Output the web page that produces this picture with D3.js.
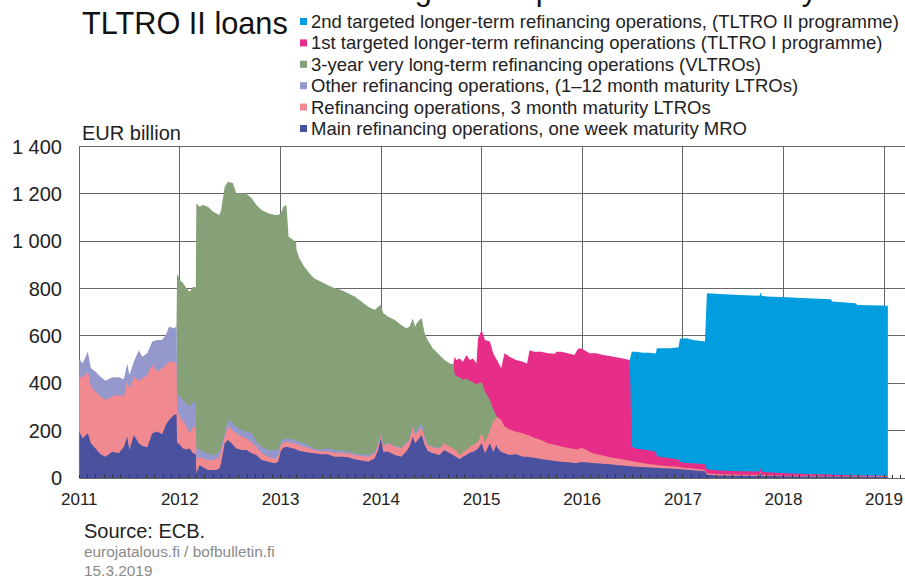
<!DOCTYPE html>
<html><head><meta charset="utf-8">
<script src="https://cdn.jsdelivr.net/npm/d3@7"></script>
<style>
body{margin:0;background:#fff;}
svg{display:block;font-family:"Liberation Sans",Arial,Helvetica,sans-serif;}
</style>
</head><body>
<svg id="chart" width="905" height="578"></svg>
<script>
// ---------------- DATA (EUR billion) ----------------
const dates = [
 "2011-01-01","2011-01-13","2011-02-01","2011-02-12","2011-03-01","2011-03-19","2011-04-06","2011-05-01","2011-05-24","2011-06-12","2011-06-24","2011-07-02","2011-07-18","2011-08-05","2011-08-18","2011-09-05","2011-09-23","2011-10-11","2011-10-29","2011-11-11","2011-11-23","2011-12-11","2011-12-20","2011-12-22",
 "2012-01-01","2012-01-13","2012-01-25","2012-02-06","2012-02-18","2012-02-28","2012-03-01","2012-03-13","2012-03-25","2012-04-12","2012-04-30","2012-05-12","2012-05-24","2012-05-30","2012-06-12","2012-06-24","2012-07-12","2012-07-24","2012-08-12","2012-08-30","2012-09-18","2012-10-05","2012-10-24","2012-11-17","2012-12-11","2012-12-23",
 "2013-01-02","2013-01-11","2013-01-22","2013-01-30","2013-02-16","2013-02-26","2013-02-28","2013-03-10","2013-03-28","2013-04-16","2013-05-04","2013-05-28","2013-06-21","2013-07-16","2013-08-09","2013-09-03","2013-09-27","2013-10-21","2013-11-15","2013-12-09","2013-12-21","2013-12-31",
 "2014-01-09","2014-01-27","2014-02-20","2014-03-15","2014-04-02","2014-04-14","2014-04-26","2014-05-04","2014-05-14","2014-05-28","2014-06-08","2014-06-19","2014-07-07","2014-08-01","2014-08-19","2014-09-07","2014-09-20","2014-09-25","2014-10-01","2014-10-13","2014-10-25","2014-11-07","2014-11-19","2014-12-01","2014-12-13","2014-12-19",
 "2015-01-01","2015-01-13","2015-01-31","2015-02-12","2015-02-24","2015-02-26","2015-03-13","2015-03-25","2015-04-12","2015-05-06","2015-05-30","2015-06-15","2015-06-24","2015-07-11","2015-08-05","2015-08-29","2015-09-23","2015-09-30","2015-10-17","2015-11-10","2015-12-04","2015-12-16","2015-12-26",
 "2016-01-10","2016-01-28","2016-02-22","2016-03-16","2016-04-10","2016-05-04","2016-05-28","2016-06-22","2016-06-29","2016-07-15","2016-08-09","2016-09-02","2016-09-25","2016-09-28","2016-10-21","2016-11-15","2016-12-16","2016-12-21",
 "2017-01-14","2017-02-07","2017-03-22","2017-03-29","2017-05-14","2017-07-25","2017-10-06","2017-10-10","2017-10-14","2017-11-01","2018-01-12","2018-03-24","2018-06-22","2018-06-27","2018-09-20","2018-09-26","2018-12-16","2019-01-15"
];
// Main refinancing operations (MRO)
const mro = [
 196,168,189,147,125,100,90,111,104,132,174,118,182,147,135,130,189,196,185,224,245,266,270,150,
 140,125,120,125,104,100,20,55,45,34,34,34,40,62,147,160,140,125,118,118,105,97,76,69,62,69,
 115,128,132,130,125,122,118,115,111,107,104,100,100,90,90,88,79,74,69,83,118,168,
 111,111,97,90,111,132,174,147,160,182,140,115,104,97,118,104,97,92,90,79,90,97,107,111,118,125,
 147,104,147,110,140,130,110,104,97,100,90,90,88,85,80,76,72,71,69,66,63,63,68,
 66,64,62,60,58,55,53,50,50,48,46,44,43,43,41,40,38,37,
 35,33,28,14,11,10,8,22,8,8,7,6,6,6,5,5,4,4
];
// 3 month LTROs
const ltro3m = [
 232,257,260,239,239,245,239,234,247,211,240,254,246,263,285,305,288,253,278,253,246,225,210,137,
 119,115,97,64,113,110,56,35,37,42,42,46,50,48,27,57,60,64,56,50,45,35,28,21,18,21,
 25,22,21,20,22,25,24,23,21,18,14,13,13,17,16,16,18,19,21,21,21,14,
 21,36,35,35,36,28,43,35,35,30,25,23,26,28,29,28,28,28,28,16,20,21,25,28,29,30,
 42,46,53,130,115,129,135,113,108,95,99,92,90,85,80,71,68,67,64,62,59,57,60,
 56,46,38,35,30,28,25,23,22,20,17,14,13,12,11,10,9,8,
 7,7,6,6,5,4,5,5,5,4,3,3,2,2,2,2,3,2
];
// Other refinancing operations (1-12 month LTROs)
const otherLtro = [
 75,60,84,78,85,83,82,80,74,74,70,63,63,130,92,92,99,134,120,127,148,141,160,71,
 84,90,98,112,105,110,56,28,30,28,21,20,21,20,15,28,31,26,29,28,39,21,28,28,38,28,
 10,15,15,16,16,13,13,14,15,10,7,7,12,11,9,7,7,7,7,7,8,7,
 7,3,3,3,3,5,7,8,13,19,10,2,2,3,0,0,0,0,0,0,0,0,0,0,0,0,
 0,0,0,0,0,0,0,0,0,0,0,0,0,0,0,0,0,0,0,0,0,0,0,
 0,0,0,0,0,0,0,0,0,0,0,0,0,0,0,0,0,0,
 0,0,0,0,0,0,0,0,0,0,0,0,0,0,0,0,0,0
];
// 3-year VLTROs
const vltro = [
 0,0,0,0,0,0,0,0,0,0,0,0,0,0,0,0,0,0,0,0,0,0,0,506,
 493,492,486,486,486,485,1028,1028,1041,1042,1028,1018,1000,1002,1041,1006,1014,988,1000,1004,992,1000,1000,1000,993,993,
 968,981,985,853,842,838,808,776,745,729,718,709,690,683,679,669,662,645,626,598,576,542,
 557,531,532,518,482,474,450,449,452,445,436,443,416,391,351,352,355,320,312,330,305,302,278,266,248,245,
 216,215,130,50,7,0,0,0,0,0,0,0,0,0,0,0,0,0,0,0,0,0,0,
 0,0,0,0,0,0,0,0,0,0,0,0,0,0,0,0,0,0,
 0,0,0,0,0,0,0,0,0,0,0,0,0,0,0,0,0,0
];
// TLTRO I
const tltro1 = [
 0,0,0,0,0,0,0,0,0,0,0,0,0,0,0,0,0,0,0,0,0,0,0,0,
 0,0,0,0,0,0,0,0,0,0,0,0,0,0,0,0,0,0,0,0,0,0,0,0,0,0,
 0,0,0,0,0,0,0,0,0,0,0,0,0,0,0,0,0,0,0,0,0,0,
 0,0,0,0,0,0,0,0,0,0,0,0,0,0,0,0,0,72,68,80,76,99,88,100,89,190,
 220,218,246,237,238,239,218,310,307,303,302,302,362,363,373,380,385,395,400,399,397,425,420,
 418,417,427,424,427,427,427,425,60,57,57,58,55,37,36,33,31,23,
 21,22,24,17,16,15,14,14,14,12,10,8,7,6,5,4,3,3
];
// TLTRO II
const tltro2 = [
 0,0,0,0,0,0,0,0,0,0,0,0,0,0,0,0,0,0,0,0,0,0,0,0,
 0,0,0,0,0,0,0,0,0,0,0,0,0,0,0,0,0,0,0,0,0,0,0,0,0,0,
 0,0,0,0,0,0,0,0,0,0,0,0,0,0,0,0,0,0,0,0,0,0,
 0,0,0,0,0,0,0,0,0,0,0,0,0,0,0,0,0,0,0,0,0,0,0,0,0,0,
 0,0,0,0,0,0,0,0,0,0,0,0,0,0,0,0,0,0,0,0,0,0,0,
 0,0,0,0,0,0,0,0,401,408,409,413,415,456,460,465,474,520,
 527,521,518,743,745,744,743,743,743,742,743,742,740,731,726,720,718,718
];
const seriesKeys = ["mro","ltro3m","otherLtro","vltro","tltro1","tltro2"];
const seriesLabels = [
 "Main refinancing operations, one week maturity MRO",
 "Refinancing operations, 3 month maturity LTROs",
 "Other refinancing operations, (1\u201312 month maturity LTROs)",
 "3-year very long-term refinancing operations (VLTROs)",
 "1st targeted longer-term refinancing operations (TLTRO I programme)",
 "2nd targeted longer-term refinancing operations, (TLTRO II programme)"
];
const seriesColors = ["#4a52a0","#f08a90","#9498cc","#86a077","#e62e88","#009ddf"];
const yTickValues = [0,200,400,600,800,1000,1200,1400];
const yearTicks = [2011,2012,2013,2014,2015,2016,2017,2018,2019];

// ---------------- CHART ----------------
const parse = d3.timeParse("%Y-%m-%d");
const rows = dates.map((d,i)=>({date:parse(d), mro:mro[i], ltro3m:ltro3m[i], otherLtro:otherLtro[i], vltro:vltro[i], tltro1:tltro1[i], tltro2:tltro2[i]}));

const svg = d3.select("#chart");
const x = d3.scaleTime().domain([new Date(2011,0,1), new Date(2019,0,1)]).range([79.3, 884]);
const y = d3.scaleLinear().domain([0,1400]).range([478,146.5]);
const xRight = 912;
const fmt = v => v>=1000 ? d3.format(",")(v).replace(",", " ") : String(v);

// grid
const grid = svg.append("g").attr("stroke","#666").attr("stroke-width",1).attr("shape-rendering","crispEdges");
grid.selectAll("line.h").data(yTickValues.filter(v=>v>0)).join("line")
  .attr("x1",x(new Date(2011,0,1))).attr("x2",xRight).attr("y1",d=>y(d)).attr("y2",d=>y(d));
grid.selectAll("line.v").data(yearTicks).join("line")
  .attr("x1",d=>x(new Date(d,0,1))).attr("x2",d=>x(new Date(d,0,1))).attr("y1",y(0)).attr("y2",y(1400));

// stacked areas: each layer filled from the baseline up to its cumulative top, drawn top layer first
const stacked = d3.stack().keys(seriesKeys)(rows);
const areas = svg.append("g");
for (let k = seriesKeys.length-1; k >= 0; k--) {
  const vals = rows.map(r=>r[seriesKeys[k]]);
  const def = (d,i) => vals[i]>0 || (i>0 && vals[i-1]>0) || (i<vals.length-1 && vals[i+1]>0);
  const area = d3.area().defined(def).x(d=>x(d.data.date)).y0(y(0)).y1(d=>y(d[1]));
  areas.append("path").attr("d", area(stacked[k])).attr("fill", seriesColors[k]);
}

// baseline and monthly ticks
svg.append("line").attr("x1",x(new Date(2011,0,1))).attr("x2",xRight).attr("y1",y(0)+0.5).attr("y2",y(0)+0.5)
  .attr("stroke","#666").attr("stroke-width",1);
const months = d3.timeMonth.range(new Date(2011,0,1), new Date(2019,3,1));
svg.append("g").attr("stroke","#333").attr("stroke-width",1).attr("shape-rendering","crispEdges")
  .selectAll("line").data(months).join("line")
  .attr("x1",d=>x(d)).attr("x2",d=>x(d)).attr("y1",y(0)).attr("y2",y(0)-3);

// y labels
svg.append("g").selectAll("text").data(yTickValues).join("text")
  .attr("x",62).attr("y",d=>y(d)).attr("dy","0.35em").attr("text-anchor","end")
  .attr("font-size",20).attr("fill","#222").text(d=>fmt(d));
// x labels
svg.append("g").selectAll("text").data(yearTicks).join("text")
  .attr("x",d=>x(new Date(d,0,1))).attr("y",505).attr("text-anchor","middle")
  .attr("font-size",17).attr("fill","#222").text(d=>d);

svg.append("text").attr("x",82).attr("y",140).attr("font-size",20).attr("fill","#222").text("EUR billion");

// titles (first line is cut off by the top edge in the reference)
svg.append("text").attr("x",82).attr("y",0).attr("font-size",30.7).attr("fill","#111").text("Most central bank lending is now provided almost only as");
svg.append("text").attr("x",82).attr("y",34).attr("font-size",30.7).attr("fill","#111").text("TLTRO II loans");

// legend
const legendOrder = [5,4,3,2,1,0];
const lg = svg.append("g");
legendOrder.forEach((k,i)=>{
  const by = 28 + i*21.4;
  lg.append("rect").attr("x",300).attr("y",by-10).attr("width",7).attr("height",7).attr("fill",seriesColors[k]);
  lg.append("text").attr("x",311).attr("y",by).attr("font-size",18.5).attr("fill","#222").text(seriesLabels[k]);
});

// source
svg.append("text").attr("x",84).attr("y",538).attr("font-size",20).attr("fill","#222").text("Source: ECB.");
svg.append("text").attr("x",84).attr("y",557).attr("font-size",15.4).attr("fill","#8a8a8a").text("eurojatalous.fi / bofbulletin.fi");
svg.append("text").attr("x",84).attr("y",576).attr("font-size",15.4).attr("fill","#8a8a8a").text("15.3.2019");
</script>
</body></html>
